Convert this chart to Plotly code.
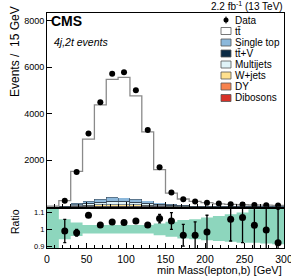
import plotly.graph_objects as go

# ---------------- data ----------------
bin_edges = [0, 15, 30, 45, 60, 75, 90, 105, 120, 135, 150, 165, 180, 195, 210, 225, 240, 255, 270, 285, 300]
bin_centers = [7.5, 22.5, 37.5, 52.5, 67.5, 82.5, 97.5, 112.5, 127.5, 142.5,
               157.5, 172.5, 187.5, 202.5, 217.5, 232.5, 247.5, 262.5, 277.5, 292.5]

data_counts = [None, 255, 1490, 3150, 4490, 5720, 5780, 5005, 3298, 1694,
               610, 320, 225, 175, 140, 110, 90, 75, 65, 50]

tt = [15, 218, 1370, 2669, 4057, 5078, 5169, 4438, 2966, 1412,
      470, 263, 183, 138, 94, 79, 64, 56, 50, 41]
single_top = [2, 15, 60, 95, 130, 165, 160, 135, 100, 72, 45, 28, 20, 16, 12, 10, 8, 7, 6, 5]
ttv = [0, 2, 9, 14, 19, 24, 24, 20, 15, 11, 7, 4, 3, 3, 2, 2, 1, 1, 1, 1]
multijets = [1, 12, 45, 72, 95, 120, 115, 98, 75, 55, 33, 21, 15, 12, 9, 7, 6, 5, 4, 4]
wjets = [1, 7, 25, 40, 55, 68, 66, 56, 42, 30, 19, 12, 8, 6, 5, 4, 3, 3, 3, 2]
dy = [1, 3, 8, 12, 15, 18, 18, 15, 12, 9, 5, 3, 3, 2, 2, 1, 1, 1, 1, 1]
dibosons = [0, 1, 3, 4, 5, 6, 6, 5, 4, 3, 2, 1, 1, 1, 1, 1, 1, 0, 0, 0]

ratio = [None, 0.99, 0.98, 1.084, 1.026, 1.044, 1.04, 1.05, 1.026, 1.064,
         1.05, 0.964, 0.964, 0.984, None, 1.06, 1.07, 1.024, 0.996, 0.92]
ratio_err = [None, 0.07, 0.02, 0.012, 0.008, 0.007, 0.007, 0.007, 0.009, 0.025,
             0.05, 0.065, 0.08, 0.10, None, 0.13, 0.15, 0.20, 0.20, 0.20]
band_lo = [0.85, 0.94, 0.96, 0.975, 0.975, 0.975, 0.975, 0.975, 0.975, 0.965,
           0.955, 0.945, 0.94, 0.935, 0.93, 0.925, 0.92, 0.92, 0.915, 0.91]
band_hi = [1.15, 1.06, 1.04, 1.025, 1.025, 1.025, 1.025, 1.025, 1.025, 1.035,
           1.045, 1.055, 1.06, 1.07, 1.08, 1.09, 1.10, 1.12, 1.14, 1.15]

x_ticks = [0, 50, 100, 150, 200, 250, 300]
y_ticks = [2000, 4000, 6000, 8000]
ratio_ticks = [0.9, 1.0, 1.1]
ratio_labels = ["0.9", "1", "1.1"]

# ---------------- styling ----------------
FONT = "Liberation Sans, Arial, Helvetica, sans-serif"
W, H = 291, 278
L, R, T, B = 47, 7, 13, 30
PW, PH = W - L - R, H - T - B


def px(xp):
    return (xp - L) / PW


def py(yp):
    return (H - B - yp) / PH


components = [
    ("Dibosons", dibosons, "#d73027"),
    ("DY", dy, "#f7834f"),
    ("W+jets", wjets, "#fee08e"),
    ("Multijets", multijets, "#e0f3f8"),
    ("tt\u0304+V", ttv, "#0b2b45"),
    ("Single top", single_top, "#8cb8db"),
    ("tt\u0304", tt, "#ffffff"),
]

fig = go.Figure()

for name, vals, col in components:
    is_tt = name == "tt\u0304"
    fig.add_trace(go.Bar(
        x=bin_centers, y=vals, width=15, name=name,
        marker=dict(color=col,
                    line=dict(color="rgba(0,0,0,0)" if is_tt else "#3a4a58",
                              width=0 if is_tt else 0.6)),
        xaxis="x", yaxis="y", showlegend=False,
    ))

totals = [sum(c[1][i] for c in components) for i in range(len(bin_centers))]
fig.add_trace(go.Scatter(
    x=bin_edges, y=totals + [totals[-1]], mode="lines",
    line=dict(color="#8a8a8a", width=1.3, shape="hv"),
    xaxis="x", yaxis="y", showlegend=False, hoverinfo="skip",
))

fig.add_trace(go.Scatter(
    x=bin_centers, y=data_counts, mode="markers",
    marker=dict(color="black", size=6),
    xaxis="x", yaxis="y", showlegend=False,
))

# ratio band
fig.add_trace(go.Scatter(
    x=bin_edges, y=band_lo + [band_lo[-1]], mode="lines",
    line=dict(color="rgba(0,0,0,0)", width=0, shape="hv"),
    xaxis="x2", yaxis="y2", showlegend=False, hoverinfo="skip",
))
fig.add_trace(go.Scatter(
    x=bin_edges, y=band_hi + [band_hi[-1]], mode="lines",
    line=dict(color="rgba(0,0,0,0)", width=0, shape="hv"),
    fill="tonexty", fillcolor="#8dd6bd",
    xaxis="x2", yaxis="y2", showlegend=False, hoverinfo="skip",
))
fig.add_trace(go.Scatter(
    x=bin_centers, y=ratio, mode="markers",
    marker=dict(color="black", size=7),
    error_y=dict(type="data", array=ratio_err, color="black", thickness=1.3, width=1.5),
    xaxis="x2", yaxis="y2", showlegend=False,
))

axis_common = dict(showline=True, linecolor="black", linewidth=1, mirror=True,
                   ticks="inside", tickcolor="black", showgrid=False, zeroline=False)

fig.update_layout(
    width=W, height=H,
    margin=dict(l=L, r=R, t=T, b=B, autoexpand=False),
    paper_bgcolor="white", plot_bgcolor="white",
    barmode="stack", bargap=0,
    font=dict(family=FONT, color="black"),
    xaxis=dict(domain=[0, 1], anchor="y", range=[0, 300], tickvals=x_ticks,
               showticklabels=False, ticklen=5, matches="x2",
               minor=dict(ticks="inside", ticklen=3, dtick=10, tickcolor="black"),
               **axis_common),
    yaxis=dict(domain=[0.1757, 1], anchor="x", range=[0, 8330], tickvals=y_ticks,
               ticklen=5, tickfont=dict(family=FONT, size=9, color="black"),
               **axis_common),
    xaxis2=dict(domain=[0, 1], anchor="y2", range=[0, 300], tickvals=x_ticks,
                ticklen=5, ticklabeloverflow="allow", ticklabelstandoff=1,
                minor=dict(ticks="inside", ticklen=3, dtick=10, tickcolor="black"),
                tickfont=dict(family=FONT, size=10.5, color="black"),
                **axis_common),
    yaxis2=dict(domain=[0, 0.166], anchor="x2", range=[0.888, 1.1216],
                tickvals=ratio_ticks, ticktext=ratio_labels, ticklen=5,
                tickfont=dict(family=FONT, size=7.5, color="black"),
                **axis_common),
)

ann = []
ann.append(dict(text="<b>CMS</b>", x=px(49), y=py(21), xanchor="left", yanchor="middle",
                font=dict(size=14)))
ann.append(dict(text="<i>4j,2t events</i>", x=px(52), y=py(41.5), xanchor="left",
                yanchor="middle", font=dict(size=10.5)))
ann.append(dict(text="2.2 fb<sup>-1</sup> (13 TeV)", x=px(285), y=py(6), xanchor="right",
                yanchor="middle", font=dict(size=10)))
ann.append(dict(text="Events /  15 GeV", x=px(15), y=py(52), xanchor="center",
                yanchor="middle", textangle=-90, font=dict(size=12)))
ann.append(dict(text="Ratio", x=px(15), y=py(222), xanchor="center",
                yanchor="middle", textangle=-90, font=dict(size=10.5)))
ann.append(dict(text="min Mass(lepton,b) [GeV]", x=px(284), y=py(270), xanchor="right",
                yanchor="middle", font=dict(size=11)))

shapes = []
# legend
leg_entries = [("Data", None)] + [(n, c) for n, v, c in reversed(components)]
leg_y = [20, 31, 42.5, 53.5, 64.5, 75.5, 86.5, 98]
for (name, col), yy in zip(leg_entries, leg_y):
    if col is None:
        shapes.append(dict(type="line", xref="paper", yref="paper",
                           x0=px(226), x1=px(226), y0=py(yy - 3.5), y1=py(yy + 3.5),
                           line=dict(color="black", width=1)))
        shapes.append(dict(type="circle", xref="paper", yref="paper",
                           x0=px(223.5), x1=px(228.5), y0=py(yy + 2.5), y1=py(yy - 2.5),
                           fillcolor="black", line=dict(color="black", width=0)))
    else:
        shapes.append(dict(type="rect", xref="paper", yref="paper",
                           x0=px(221), x1=px(231), y0=py(yy + 3.5), y1=py(yy - 3.5),
                           fillcolor=col, line=dict(color="#555555", width=0.8)))
    ann.append(dict(text=name, x=px(232.5), y=py(yy), xanchor="left", yanchor="middle",
                    font=dict(size=10)))

for a in ann:
    a.update(xref="paper", yref="paper", showarrow=False)
    a.setdefault("font", {})
    a["font"].setdefault("family", FONT)
    a["font"]["color"] = "black"

fig.update_layout(annotations=ann, shapes=shapes)

fig.write_html("out.html",
               config={"displayModeBar": False, "staticPlot": True},
               post_script="document.body.style.margin='0';document.body.style.overflow='hidden';")
